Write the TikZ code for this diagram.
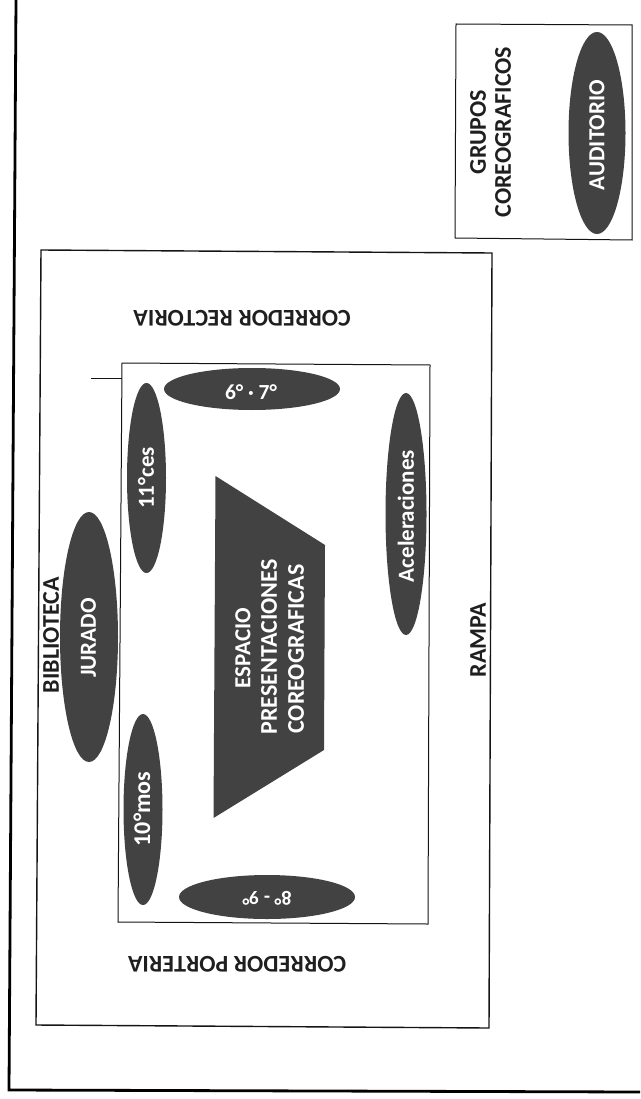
\documentclass[tikz,border=0pt]{standalone}
\usepackage{fontspec}
\setmainfont{Carlito}
\usetikzlibrary{shapes.geometric}
\definecolor{scan}{gray}{0.26}
\definecolor{inkc}{gray}{0.08}
\tikzset{
  frameline/.style={draw=black,line width=2.8pt,line join=miter},
  boxline/.style={draw=inkc,line width=1.4pt},
  thinline/.style={draw=inkc,line width=1pt},
  darklabel/.style={text=black!88,font=\fontsize{24}{28}\selectfont\bfseries,align=center,inner sep=0pt},
  lightlabel/.style={text=white,font=\fontsize{23}{28}\selectfont\bfseries,align=center,inner sep=0pt},
  smalllight/.style={text=white,font=\fontsize{#1}{26}\selectfont\bfseries,align=center,inner sep=0pt},
}
\begin{document}
\begin{tikzpicture}[x=1pt,y=-1pt]
\useasboundingbox (0,0) rectangle (640,1099);
% page frame
\draw[frameline] (16,0) -- (9,1090) -- (640,1092);
% boxes
\draw[thinline] (456,24) -- (632,25) -- (632,240) -- (455,238) -- cycle;
\draw[boxline] (41,250) -- (492,253) -- (489,1028) -- (36,1025) -- cycle;
\draw[thinline] (122,363) -- (430,365) -- (428,924) -- (118,922) -- cycle;
\coordinate (tickend) at (91,378);
\coordinate (tickbox) at (122,378);
\draw[thinline] (tickend) -- (tickbox);
% trapezoid
\fill[scan] (215.5,476) -- (325,545) -- (324,750) -- (213.5,818) -- cycle;
% ellipses
\fill[scan] (597,133) ellipse [x radius=28.5,y radius=101];
\fill[scan] (252,389) ellipse [x radius=88,y radius=21];
\fill[scan] (146.5,478) ellipse [x radius=19.5,y radius=95];
\fill[scan] (406,514) ellipse [x radius=20.5,y radius=121];
\fill[scan] (89,637) ellipse [x radius=29,y radius=125];
\fill[scan] (143,809.5) ellipse [x radius=19.5,y radius=95.5];
\fill[scan] (267,897) ellipse [x radius=88,y radius=22];
% dark labels
\node[darklabel,rotate=90] (grupos) at (478,132) {GRUPOS};
\node[darklabel,rotate=90] (coreo) at (503,132) {COREOGRAFICOS};
\node[darklabel,rotate=180] (rectoria) at (242,318) {CORREDOR RECTORIA};
\node[darklabel,rotate=180] (porteria) at (237,964) {CORREDOR PORTERIA};
\node[darklabel,rotate=90] (biblioteca) at (51,635) {BIBLIOTECA};
\node[darklabel,rotate=90] (rampa) at (478,640) {RAMPA};
% light labels
\node[lightlabel,rotate=90] (auditorio) at (597,135) {AUDITORIO};
\node[smalllight=21.5] (sixseven) at (251,392) {6° · 7°};
\node[lightlabel,rotate=90] (once) at (146,478) {11°ces};
\node[lightlabel,rotate=90] (acel) at (406,516) {Aceleraciones};
\node[lightlabel,rotate=90] (jurado) at (88.5,638) {JURADO};
\node[smalllight=24,rotate=90] (diez) at (142,809) {10°mos};
\node[smalllight=20,rotate=180] (ochonueve) at (267,898) {8° - 9°};
\node[lightlabel,rotate=90] (espacio) at (243,648) {ESPACIO};
\node[smalllight=24,rotate=90] (present) at (269,647) {PRESENTACIONES};
\node[smalllight=24,rotate=90] (coreog) at (296,649) {COREOGRAFICAS};
\end{tikzpicture}
\end{document}
